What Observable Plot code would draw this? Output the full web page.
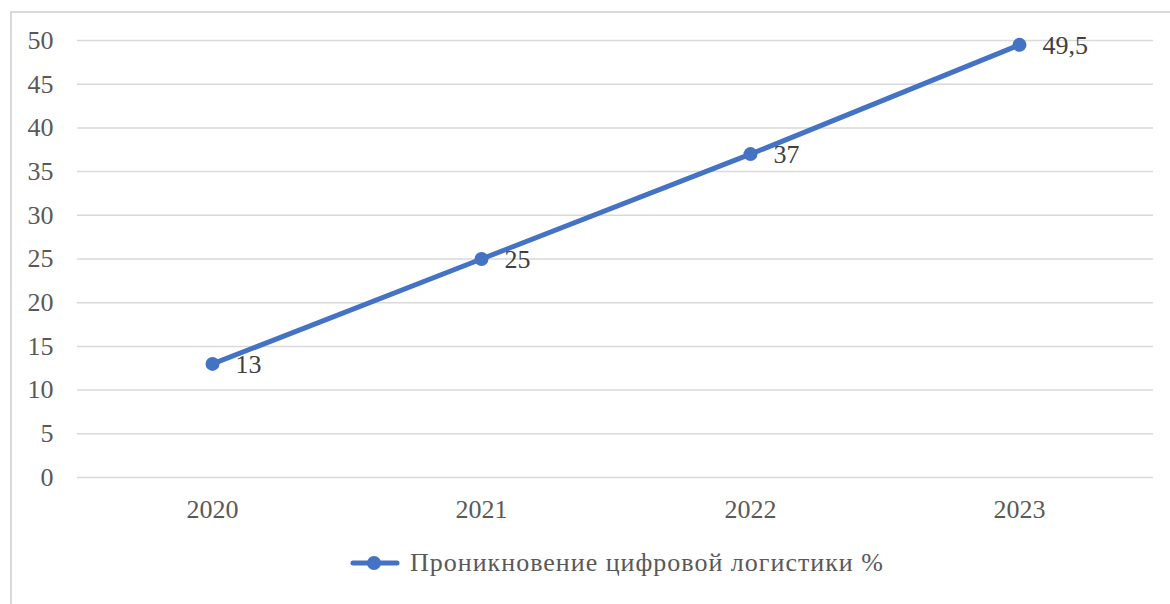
<!DOCTYPE html>
<html>
<head>
<meta charset="utf-8">
<script src="https://cdn.jsdelivr.net/npm/d3@7"></script>
<script src="https://cdn.jsdelivr.net/npm/@observablehq/plot@0.6"></script>
<style>
  html, body { margin: 0; padding: 0; background: #fff; }
  body { width: 1170px; height: 604px; position: relative; overflow: hidden; font-family: "Liberation Serif", "Times New Roman", Tinos, "DejaVu Serif", serif; }
  #frame { position: absolute; left: 10px; top: 11px; width: 1200px; height: 700px; border-left: 2px solid #d9d9d9; border-top: 2px solid #d9d9d9; }
  #chart { position: absolute; left: 0; top: 0; }
  #legend { position: absolute; left: 350px; top: 546px; height: 34px; display: flex; align-items: center; color: #595959; font-size: 26px; letter-spacing: 1px; white-space: nowrap; }
  #legend svg { margin-right: 10px; }
</style>
</head>
<body>
<div id="frame"></div>
<div id="chart"></div>
<div id="legend"></div>
<script>
const years = ["2020", "2021", "2022", "2023"];
const values = [13, 25, 37, 49.5];
const yTicks = [0, 5, 10, 15, 20, 25, 30, 35, 40, 45, 50];
const seriesName = "Проникновение цифровой логистики %";
const lineColor = "#4472C4";

const data = years.map((y, i) => ({year: y, value: values[i], label: String(values[i]).replace(".", ",")}));

const chart = Plot.plot({
  width: 1170,
  height: 604,
  marginLeft: 77,
  marginRight: 17,
  marginTop: 40,
  marginBottom: 127,
  style: {fontFamily: "'Liberation Serif', 'Times New Roman', Tinos, 'DejaVu Serif', serif", fontSize: "26px", color: "#595959", background: "transparent"},
  x: {type: "point", domain: years, padding: 0.5, label: null},
  y: {domain: [0, 50], label: null},
  marks: [
    Plot.ruleY(yTicks, {stroke: "#d9d9d9", strokeWidth: 1.5}),
    Plot.axisY({ticks: yTicks, tickSize: 0, tickPadding: 24, label: null, fontSize: 26}),
    Plot.axisX({tickSize: 0, tickPadding: 22, label: null, fontSize: 26}),
    Plot.line(data, {x: "year", y: "value", stroke: lineColor, strokeWidth: 5, strokeLinecap: "round"}),
    Plot.dot(data, {x: "year", y: "value", r: 7, fill: lineColor, stroke: "none"}),
    Plot.text(data, {x: "year", y: "value", text: "label", dx: 23, dy: 1, textAnchor: "start", fill: "#404040", fontSize: 26})
  ]
});
document.getElementById("chart").appendChild(chart);

const legend = document.getElementById("legend");
legend.innerHTML = `<svg width="50" height="20"><line x1="3" y1="10" x2="47" y2="10" stroke="${lineColor}" stroke-width="5" stroke-linecap="round"/><circle cx="24" cy="10" r="7" fill="${lineColor}"/></svg><span>${seriesName}</span>`;
</script>
</body>
</html>
